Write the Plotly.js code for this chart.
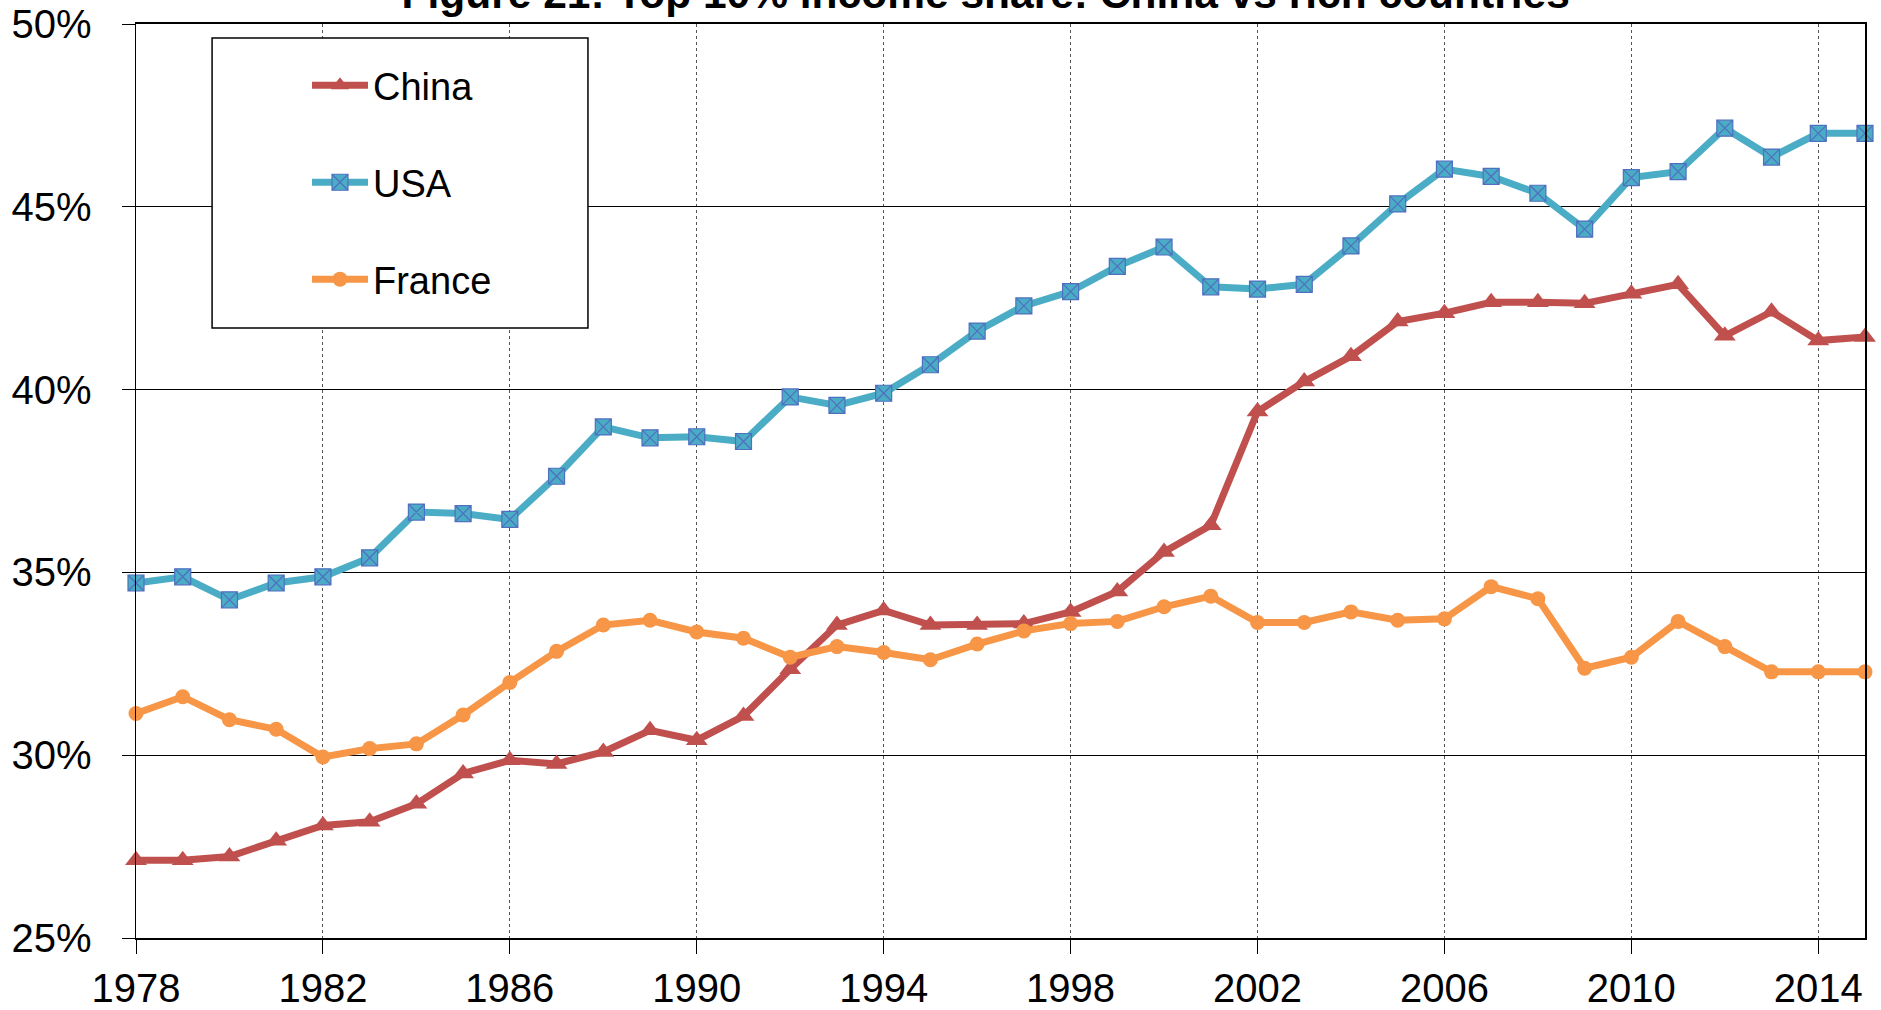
<!DOCTYPE html>
<html>
<head>
<meta charset="utf-8">
<script src="https://cdn.plot.ly/plotly-3.0.1.min.js"></script>
<style>
  html, body { margin: 0; padding: 0; background: #ffffff; }
  #chart { width: 1881px; height: 1010px; }
</style>
</head>
<body>
<div id="chart"></div>
<script>
// ---- Data ----
const years = [1978,1979,1980,1981,1982,1983,1984,1985,1986,1987,1988,1989,1990,1991,1992,1993,1994,1995,1996,1997,1998,1999,2000,2001,2002,2003,2004,2005,2006,2007,2008,2009,2010,2011,2012,2013,2014,2015];

const china = [27.13,27.13,27.23,27.66,28.08,28.18,28.67,29.50,29.86,29.76,30.09,30.68,30.41,31.07,32.35,33.56,33.96,33.56,33.56,33.60,33.92,34.48,35.56,36.29,39.40,40.22,40.91,41.86,42.09,42.39,42.39,42.36,42.62,42.88,41.47,42.13,41.34,41.44];

const usa = [34.71,34.88,34.25,34.71,34.88,35.40,36.65,36.61,36.45,37.63,38.98,38.68,38.71,38.58,39.80,39.57,39.90,40.68,41.60,42.29,42.68,43.37,43.90,42.81,42.75,42.88,43.93,45.08,46.03,45.83,45.37,44.39,45.80,45.96,47.15,46.36,47.01,47.01];

const france = [31.14,31.60,30.97,30.71,29.95,30.18,30.31,31.10,31.99,32.84,33.56,33.69,33.37,33.20,32.68,32.97,32.81,32.61,33.04,33.40,33.60,33.66,34.06,34.35,33.63,33.63,33.92,33.69,33.73,34.61,34.28,32.38,32.68,33.66,32.97,32.28,32.28,32.28];

const seriesNames = ["China", "USA", "France"];
const yTickVals = [25, 30, 35, 40, 45, 50];
const xTickVals = [1978,1982,1986,1990,1994,1998,2002,2006,2010,2014];
const titleText = "Figure 21: Top 10% income share: China vs rich countries";

const FONT = "Liberation Sans, Arial, Helvetica, sans-serif";

const traces = [
  {
    x: years, y: china, name: seriesNames[0], type: "scatter", mode: "lines+markers",
    legendgroup: "g1", cliponaxis: false,
    line: { color: "#C0504D", width: 7 },
    marker: { symbol: "triangle-up", size: 19, color: "#C0504D" }
  },
  {
    x: years, y: usa, name: seriesNames[1], type: "scatter", mode: "lines+markers",
    legendgroup: "g2", cliponaxis: false,
    line: { color: "#4BACC6", width: 7 },
    marker: { symbol: "square-x", size: 16, color: "#4BACC6", line: { color: "#4F6FC0", width: 1.2 } }
  },
  {
    x: years, y: france, name: seriesNames[2], type: "scatter", mode: "lines+markers",
    legendgroup: "g3", cliponaxis: false,
    line: { color: "#F79646", width: 7 },
    marker: { symbol: "circle", size: 15, color: "#F79646" }
  }
];

const layout = {
  width: 1881, height: 1010,
  paper_bgcolor: "#ffffff", plot_bgcolor: "#ffffff",
  margin: { l: 136, r: 16, t: 24, b: 72, pad: 0 },
  font: { family: FONT, color: "#000000", size: 40 },
  title: {
    text: "<b>" + titleText + "</b>",
    font: { family: FONT, size: 42.5, color: "#000000" },
    x: 0.524, xanchor: "center", xref: "container",
    y: 0.992, yanchor: "bottom", yref: "container"
  },
  showlegend: true,
  legend: {
    x: 0.0989, xanchor: "left", xref: "paper",
    y: 0.967, yanchor: "top", yref: "paper",
    bgcolor: "rgba(0,0,0,0)", borderwidth: 0,
    traceorder: "grouped", tracegroupgap: 44.5,
    itemwidth: 56,
    font: { family: FONT, size: 38, color: "#000000" }
  },
  xaxis: {
    range: [1978, 2015], tickmode: "array", tickvals: xTickVals,
    ticktext: xTickVals.map(String),
    showgrid: true, gridcolor: "#555555", gridwidth: 1, griddash: "dot",
    showline: true, linecolor: "#000000", linewidth: 2, mirror: true,
    ticks: "outside", ticklen: 14, tickwidth: 1, tickcolor: "#000000",
    ticklabelstandoff: 0,
    tickfont: { family: FONT, size: 40, color: "#000000" },
    zeroline: false, fixedrange: true
  },
  yaxis: {
    range: [25, 50], tickmode: "array", tickvals: yTickVals,
    ticktext: yTickVals.map(v => v + "%"),
    showgrid: true, gridcolor: "#000000", gridwidth: 1,
    showline: true, linecolor: "#000000", linewidth: 1.5, mirror: true,
    ticks: "outside", ticklen: 13, tickwidth: 1, tickcolor: "#000000",
    ticklabelstandoff: 22,
    tickfont: { family: FONT, size: 40, color: "#000000" },
    zeroline: false, fixedrange: true
  },
  shapes: [
    {
      type: "rect", xref: "paper", yref: "paper", layer: "above",
      x0: 0.0440, x1: 0.2614, y0: 0.6674, y1: 0.9847,
      fillcolor: "#ffffff", line: { color: "#000000", width: 1.5 }
    }
  ]
};

Plotly.newPlot("chart", traces, layout, { displayModeBar: false, staticPlot: true });
</script>
</body>
</html>
